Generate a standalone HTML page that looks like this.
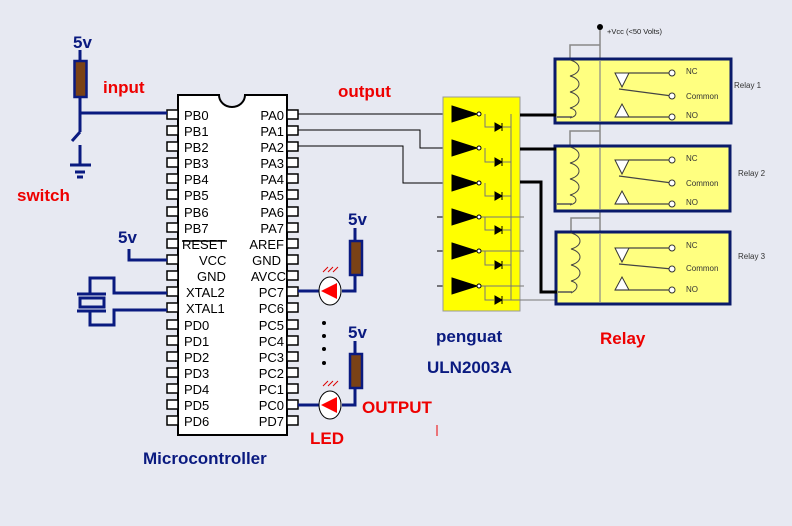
<!DOCTYPE html>
<html><head><style>
html,body{margin:0;padding:0;background:#e7e9f2}
svg{display:block}
text{font-family:"Liberation Sans",Arial,sans-serif}
.pl{font-size:13px;fill:#000}
.b{font-weight:bold}
</style></head><body>
<svg width="792" height="526" viewBox="0 0 792 526" xmlns="http://www.w3.org/2000/svg">
<rect width="792" height="526" fill="#e7e9f2"/>

<!-- chip -->
<path d="M178 95 H219 A13 12 0 0 0 245 95 H287 V435 H178 Z" fill="#fff" stroke="#000" stroke-width="2"/>
<g fill="#fff" stroke="#000" stroke-width="1.5">
<rect x="167" y="110" width="11" height="9"/><rect x="167" y="126" width="11" height="9"/><rect x="167" y="142" width="11" height="9"/><rect x="167" y="158" width="11" height="9"/><rect x="167" y="174" width="11" height="9"/><rect x="167" y="190" width="11" height="9"/><rect x="167" y="207" width="11" height="9"/><rect x="167" y="223" width="11" height="9"/><rect x="167" y="239" width="11" height="9"/><rect x="167" y="255" width="11" height="9"/><rect x="167" y="271" width="11" height="9"/><rect x="167" y="287" width="11" height="9"/><rect x="167" y="303" width="11" height="9"/><rect x="167" y="320" width="11" height="9"/><rect x="167" y="336" width="11" height="9"/><rect x="167" y="352" width="11" height="9"/><rect x="167" y="368" width="11" height="9"/><rect x="167" y="384" width="11" height="9"/><rect x="167" y="400" width="11" height="9"/><rect x="167" y="416" width="11" height="9"/>
<rect x="287" y="110" width="11" height="9"/><rect x="287" y="126" width="11" height="9"/><rect x="287" y="142" width="11" height="9"/><rect x="287" y="158" width="11" height="9"/><rect x="287" y="174" width="11" height="9"/><rect x="287" y="190" width="11" height="9"/><rect x="287" y="207" width="11" height="9"/><rect x="287" y="223" width="11" height="9"/><rect x="287" y="239" width="11" height="9"/><rect x="287" y="255" width="11" height="9"/><rect x="287" y="271" width="11" height="9"/><rect x="287" y="287" width="11" height="9"/><rect x="287" y="303" width="11" height="9"/><rect x="287" y="320" width="11" height="9"/><rect x="287" y="336" width="11" height="9"/><rect x="287" y="352" width="11" height="9"/><rect x="287" y="368" width="11" height="9"/><rect x="287" y="384" width="11" height="9"/><rect x="287" y="400" width="11" height="9"/><rect x="287" y="416" width="11" height="9"/>
</g>
<g class="pl">
<text x="184" y="120">PB0</text><text x="184" y="136">PB1</text><text x="184" y="152">PB2</text><text x="184" y="168">PB3</text><text x="184" y="184">PB4</text><text x="184" y="200">PB5</text><text x="184" y="217">PB6</text><text x="184" y="233">PB7</text>
<text x="182" y="249">RESET</text><text x="199" y="265">VCC</text><text x="197" y="281">GND</text><text x="186" y="297">XTAL2</text><text x="186" y="313">XTAL1</text>
<text x="184" y="330">PD0</text><text x="184" y="346">PD1</text><text x="184" y="362">PD2</text><text x="184" y="378">PD3</text><text x="184" y="394">PD4</text><text x="184" y="410">PD5</text><text x="184" y="426">PD6</text>
</g>
<line x1="182" y1="241" x2="227" y2="241" stroke="#000" stroke-width="1.5"/>
<g class="pl" text-anchor="end">
<text x="284" y="120">PA0</text><text x="284" y="136">PA1</text><text x="284" y="152">PA2</text><text x="284" y="168">PA3</text><text x="284" y="184">PA4</text><text x="284" y="200">PA5</text><text x="284" y="217">PA6</text><text x="284" y="233">PA7</text>
<text x="284" y="249">AREF</text><text x="281" y="265">GND</text><text x="286" y="281">AVCC</text>
<text x="284" y="297">PC7</text><text x="284" y="313">PC6</text><text x="284" y="330">PC5</text><text x="284" y="346">PC4</text><text x="284" y="362">PC3</text><text x="284" y="378">PC2</text><text x="284" y="394">PC1</text><text x="284" y="410">PC0</text><text x="284" y="426">PD7</text>
</g>

<!-- input/switch -->
<g stroke="#0a1a80" stroke-width="3" fill="none">
<line x1="80" y1="50" x2="80" y2="60"/>
<line x1="80" y1="97" x2="80" y2="132"/>
<line x1="80" y1="113" x2="167" y2="113"/>
<line x1="80" y1="132" x2="72" y2="141"/>
<line x1="80" y1="145" x2="80" y2="165"/>
<line x1="70" y1="165" x2="91" y2="165"/>
<line x1="75" y1="172" x2="85" y2="172"/>
<line x1="77" y1="177" x2="83" y2="177"/>
</g>
<rect x="74.5" y="61" width="12" height="36" fill="#7a4216" stroke="#0a1a80" stroke-width="2.5"/>
<text x="73" y="48" class="b" font-size="17" fill="#0a1a80">5v</text>

<!-- VCC 5v -->
<text x="118" y="243" class="b" font-size="17" fill="#0a1a80">5v</text>
<path d="M129 249 V260 H167" stroke="#0a1a80" stroke-width="3" fill="none"/>

<!-- crystal -->
<g stroke="#0a1a80" stroke-width="3" fill="none">
<line x1="77" y1="294" x2="106" y2="294"/>
<rect x="80" y="298" width="24" height="9"/>
<line x1="77" y1="311" x2="106" y2="311"/>
<path d="M90 294 V278 H114 V293 H167"/>
<path d="M90 312 V325 H114 V310 H167"/>
</g>

<!-- LEDs -->
<text x="348" y="225" class="b" font-size="17" fill="#0a1a80">5v</text>
<g stroke="#0a1a80" stroke-width="3" fill="none">
<line x1="355" y1="228" x2="355" y2="241"/>
<path d="M355 275 V291 H342"/>
<line x1="298" y1="291" x2="320" y2="291"/>
<line x1="355" y1="341" x2="355" y2="354"/>
<path d="M355 388 V405 H342"/>
<line x1="298" y1="405" x2="320" y2="405"/>
</g>
<rect x="350" y="241" width="12" height="34" fill="#7a4216" stroke="#0a1a80" stroke-width="2.5"/>
<rect x="350" y="354" width="12" height="34" fill="#7a4216" stroke="#0a1a80" stroke-width="2.5"/>
<ellipse cx="330" cy="291" rx="11" ry="14" fill="#fff" stroke="#000"/>
<path d="M321 291 L337 283 V299 Z" fill="#f00"/>
<ellipse cx="330" cy="405" rx="11" ry="14" fill="#fff" stroke="#000"/>
<path d="M321 405 L337 397 V413 Z" fill="#f00"/>
<g stroke="#d00" stroke-width="1"><path d="M323 272 l5 -5 M328 272 l5 -5 M333 272 l5 -5"/><path d="M323 386 l5 -5 M328 386 l5 -5 M333 386 l5 -5"/></g>
<text x="348" y="338" class="b" font-size="17" fill="#0a1a80">5v</text>
<g fill="#000"><circle cx="324" cy="323" r="2"/><circle cx="324" cy="336" r="2"/><circle cx="324" cy="349" r="2"/><circle cx="324" cy="363" r="2"/></g>

<!-- chip to ULN -->
<g stroke="#000" stroke-width="1" fill="none">
<line x1="298" y1="114" x2="452" y2="114"/>
<path d="M298 130 H420 V148 H452"/>
<path d="M298 146 H403 V183 H452"/>
<line x1="437" y1="217" x2="452" y2="217"/>
<line x1="437" y1="251" x2="452" y2="251"/>
<line x1="437" y1="286" x2="452" y2="286"/>
</g>

<!-- ULN -->
<rect x="443" y="97" width="77" height="214" fill="#ffff00" stroke="#999" stroke-width="1"/>
<g stroke="#777" stroke-width="1" fill="none">
<line x1="511" y1="114" x2="511" y2="300"/>
<path d="M485 114 V127 H494 M485 148 V162 H494 M485 183 V196 H494 M485 217 V230 H494 M485 251 V265 H494 M485 286 V300 H494"/>
<path d="M503 127 H511 M503 162 H511 M503 196 H511 M503 230 H511 M503 265 H511 M503 300 H599"/>
<path d="M481 217 H524 M481 251 H524 M481 286 H524"/>
</g>
<g fill="#000" stroke="#000">
<path d="M452 106 L477 114 L452 122 Z"/><circle cx="479" cy="114" r="2" fill="#fff"/>
<path d="M452 140 L477 148 L452 156 Z"/><circle cx="479" cy="148" r="2" fill="#fff"/>
<path d="M452 175 L477 183 L452 191 Z"/><circle cx="479" cy="183" r="2" fill="#fff"/>
<path d="M452 209 L477 217 L452 225 Z"/><circle cx="479" cy="217" r="2" fill="#fff"/>
<path d="M452 243 L477 251 L452 259 Z"/><circle cx="479" cy="251" r="2" fill="#fff"/>
<path d="M452 278 L477 286 L452 294 Z"/><circle cx="479" cy="286" r="2" fill="#fff"/>
<path d="M495 123 L502 127 L495 131 Z M502 123 V131"/>
<path d="M495 158 L502 162 L495 166 Z M502 158 V166"/>
<path d="M495 192 L502 196 L495 200 Z M502 192 V200"/>
<path d="M495 226 L502 230 L495 234 Z M502 226 V234"/>
<path d="M495 261 L502 265 L495 269 Z M502 261 V269"/>
<path d="M495 296 L502 300 L495 304 Z M502 296 V304"/>
</g>

<!-- Vcc line -->
<g stroke="#888" stroke-width="1.5" fill="none">
<line x1="600" y1="27" x2="600" y2="300"/>
<path d="M570 60 V45 H600 M570 147 V131 H600 M571 233 V218 H600"/>
</g>
<circle cx="600" cy="27" r="3" fill="#000"/>
<text x="607" y="34" font-size="7.5" fill="#222">+Vcc (&lt;50 Volts)</text>

<!-- relays -->
<g>
<rect x="555" y="59" width="176" height="64" fill="#ffff80" stroke="#0a1a6a" stroke-width="3"/>
<rect x="555" y="146" width="175" height="65" fill="#ffff80" stroke="#0a1a6a" stroke-width="3"/>
<rect x="556" y="232" width="174" height="72" fill="#ffff80" stroke="#0a1a6a" stroke-width="3"/>
</g>
<g stroke="#888" stroke-width="1.2"><line x1="600" y1="60" x2="600" y2="122"/><line x1="600" y1="147" x2="600" y2="210"/><line x1="600" y1="233" x2="600" y2="303"/></g>
<g fill="none" stroke="#444" stroke-width="1">
<path d="M570 60 c12 3 12 13 0 16 c12 3 12 13 0 16 c12 3 12 13 0 16 c8 2 8 8 0 10"/>
<path d="M570 147 c12 3 12 13 0 16 c12 3 12 13 0 16 c12 3 12 13 0 16 c8 2 8 8 0 10"/>
<path d="M571 233 c12 3 12 13 0 16 c12 3 12 13 0 16 c12 3 12 13 0 16 c8 2 8 8 0 12"/>
</g>
<g fill="#fff" stroke="#333" stroke-width="1">
<path d="M615 73 H629 L622 87 Z"/><path d="M615 117 L622 104 L629 117 Z"/>
<path d="M615 160 H629 L622 174 Z"/><path d="M615 204 L622 191 L629 204 Z"/>
<path d="M615 248 H629 L622 262 Z"/><path d="M615 290 L622 277 L629 290 Z"/>
</g>
<g stroke="#444" stroke-width="1.2" fill="none">
<path d="M629 73 H672 M619 89 L672 96 M615 117 H672"/>
<path d="M629 160 H672 M619 176 L672 183 M615 204 H672"/>
<path d="M629 248 H672 M619 264 L672 269 M615 290 H672"/>
</g>
<g fill="#fff" stroke="#333" stroke-width="1">
<circle cx="672" cy="73" r="3"/><circle cx="672" cy="96" r="3"/><circle cx="672" cy="117" r="3"/>
<circle cx="672" cy="160" r="3"/><circle cx="672" cy="183" r="3"/><circle cx="672" cy="204" r="3"/>
<circle cx="672" cy="248" r="3"/><circle cx="672" cy="269" r="3"/><circle cx="672" cy="290" r="3"/>
</g>
<g font-size="8" fill="#333">
<text x="686" y="74">NC</text><text x="686" y="99">Common</text><text x="686" y="118">NO</text>
<text x="686" y="161">NC</text><text x="686" y="186">Common</text><text x="686" y="205">NO</text>
<text x="686" y="248">NC</text><text x="686" y="271">Common</text><text x="686" y="292">NO</text>
<text x="734" y="88">Relay 1</text><text x="738" y="176">Relay 2</text><text x="738" y="259">Relay 3</text>
</g>
<g stroke="#555" stroke-width="1.5" fill="none"><path d="M557 117 H572 M557 204 H572 M558 292 H572"/></g>

<!-- thick outputs -->
<g stroke="#000" stroke-width="3" fill="none">
<path d="M520 115 H556"/>
<path d="M520 149 H556"/>
<path d="M520 182 H541 V292 H557"/>
</g>

<!-- labels -->
<g class="b" font-size="17" fill="#e00">
<text x="103" y="93">input</text>
<text x="338" y="97">output</text>
<text x="17" y="201">switch</text>
<text x="600" y="344">Relay</text>
<text x="310" y="444">LED</text>
<text x="362" y="413">OUTPUT</text>
</g>
<g class="b" font-size="17" fill="#0a1a80">
<text x="436" y="342">penguat</text>
<text x="427" y="373">ULN2003A</text>
<text x="143" y="464">Microcontroller</text>
</g>
<line x1="437" y1="425" x2="437" y2="436" stroke="#e00" stroke-width="1"/>
</svg>
</body></html>
